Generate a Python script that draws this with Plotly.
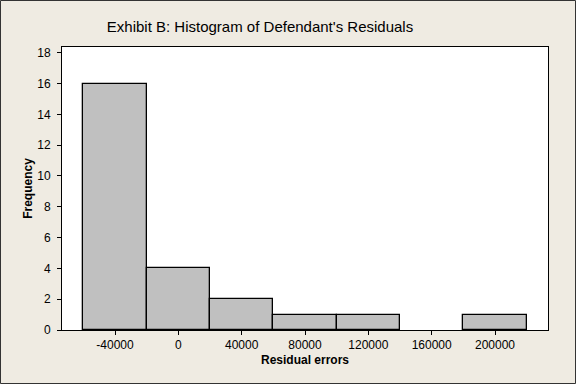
import plotly.graph_objects as go

bin_centers = [-40000, 0, 40000, 80000, 120000, 160000, 200000]
frequencies = [16, 4, 2, 1, 1, 0, 1]
x_ticks = [-40000, 0, 40000, 80000, 120000, 160000, 200000]
x_tick_labels = ["-40000", "0", "40000", "80000", "120000", "160000", "200000"]
y_ticks = [0, 2, 4, 6, 8, 10, 12, 14, 16, 18]
bin_width = 40000

W, H = 576, 384
ml, mr, mt, mb = 62, 28, 47, 54
pw, ph = W - ml - mr, H - mt - mb

fig = go.Figure(go.Bar(
    x=bin_centers, y=frequencies, width=bin_width,
    marker=dict(color="#c0c0c0",
                line=dict(color="black", width=[1.3 if f > 0 else 0 for f in frequencies])),
))

fig.update_layout(
    width=W, height=H,
    margin=dict(l=ml, r=mr, t=mt, b=mb, autoexpand=False),
    paper_bgcolor="#efebe2",
    plot_bgcolor="white",
    font=dict(family="Liberation Sans, Arial", size=12, color="black"),
    title=dict(text="Exhibit B: Histogram of Defendant's Residuals",
               x=260 / W, xref="container", xanchor="center", y=1 - 27 / H, yanchor="middle",
               font=dict(size=15)),
    showlegend=False,
    bargap=0,
)
fig.update_xaxes(range=[-73470, 233470], tickvals=x_ticks, ticktext=x_tick_labels,
                 ticks="outside", ticklen=4, automargin=False,
                 tickcolor="black", showline=True, linecolor="black", linewidth=1, mirror=True,
                 showgrid=False, zeroline=False,
                 title=dict(text="<b>Residual errors</b>", standoff=4, font=dict(size=12)))
fig.update_yaxes(range=[0, 18.37], tickvals=y_ticks, ticks="outside", ticklen=4, automargin=False,
                 ticklabelstandoff=4,
                 tickcolor="black", showline=True, linecolor="black", linewidth=1, mirror=True,
                 showgrid=False, zeroline=False,
                 title=dict(text="<b>Frequency</b>", standoff=2, font=dict(size=12)))

fig.add_shape(type="rect", xref="paper", yref="paper",
              x0=(0.5 - ml) / pw, x1=(W - 0.5 - ml) / pw,
              y0=-(mb - 0.5) / ph, y1=1 + (mt - 0.5) / ph,
              line=dict(color="#333333", width=1), fillcolor="rgba(0,0,0,0)", layer="above")

fig.write_html("out.html", config={"displayModeBar": False},
               post_script="document.body.style.margin='0';")
